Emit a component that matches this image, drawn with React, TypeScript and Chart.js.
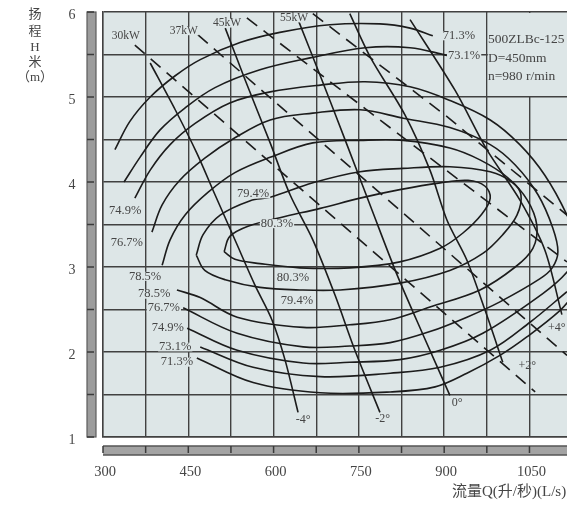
import React, { useEffect, useRef } from "react";
import { Chart, registerables } from "chart.js";
Chart.register(...registerables);

type P = [number, number];

// ---------- axes ----------
const xTickLabels = [300, 450, 600, 750, 900, 1050];
const yTickLabels = [1, 2, 3, 4, 5, 6];
const xGrid = [300, 375, 450, 525, 600, 675, 750, 825, 900, 975, 1050];
const yGrid = [1, 1.5, 2, 2.5, 3, 3.5, 4, 4.5, 5, 5.5, 6];
const xTitle = "流量Q(升/秒)(L/s)";
const yTitleChars = ["扬", "程", "H", "米", "（m）"];

// ---------- blade-angle H-Q curves [Q (L/s), H (m)] ----------
const bladeM4: P[] = [[383, 5.4], [427, 4.85], [465, 4.34], [497, 3.85], [532, 3.32], [567, 2.79], [597, 2.38], [620, 1.91], [643, 1.29]];
const bladeM2: P[] = [[515, 5.81], [550, 5.2], [594, 4.46], [629, 3.85], [669, 3.32], [708, 2.67], [743, 2.02], [787, 1.29]];
const blade0: P[] = [[643, 5.91], [685, 5.2], [729, 4.44], [773, 3.67], [817, 2.91], [863, 2.2], [910, 1.49]];
const bladeP2: P[] = [[734, 5.98], [770, 5.47], [831, 4.79], [875, 4.14], [905, 3.55], [940, 3.08], [972, 2.49], [1003, 1.88]];
const bladeP4: P[] = [[840, 5.91], [919, 5.08], [975, 4.38], [1033, 3.79], [1077, 3.2], [1107, 2.44]];
const angleText = ["-4°", "-2°", "0°", "+2°", "+4°"];
const angleQ = [652, 792, 923, 1046, 1098];
const angleH = [1.2, 1.21, 1.4, 1.84, 2.28];

// ---------- shaft power lines ----------
const power30: P[] = [[356, 5.61], [1060, 1.53]];
const power37: P[] = [[467, 5.73], [1116, 1.96]];
const power45: P[] = [[553, 5.93], [791, 4.71], [1116, 3.06]];
const power55: P[] = [[669, 5.98], [901, 4.79], [1116, 3.61]];
const powerText = ["30kW", "37kW", "45kW", "55kW"];
const powerQ = [340, 442, 518, 636];
const powerH = [5.72, 5.78, 5.87, 5.93];

// ---------- efficiency contours ----------
const eff713Upper: P[] = [[321, 4.38], [347, 4.71], [383, 5.0], [427, 5.25], [471, 5.44], [541, 5.64], [611, 5.76], [699, 5.85], [787, 5.86], [840, 5.81], [880, 5.72]];
const eff713Lower: P[] = [[465, 1.93], [564, 1.64], [682, 1.52], [805, 1.53], [884, 1.59], [940, 1.75], [998, 1.96], [1046, 2.18], [1104, 2.49], [1130, 2.69]];
const eff731Upper: P[] = [[337, 4.0], [365, 4.29], [400, 4.61], [444, 4.87], [497, 5.11], [576, 5.32], [664, 5.46], [761, 5.58], [840, 5.58], [905, 5.49]];
const eff731Lower: P[] = [[471, 2.06], [564, 1.82], [682, 1.71], [805, 1.75], [893, 1.82], [981, 2.02], [1051, 2.35], [1116, 2.71]];
const eff749: P[] = [[356, 3.81], [383, 4.14], [418, 4.44], [462, 4.69], [523, 4.93], [594, 5.06], [682, 5.14], [761, 5.18], [840, 5.12], [910, 4.96], [981, 4.73], [1033, 4.44], [1077, 4.08], [1116, 3.61], [1139, 3.2], [1116, 2.94], [1074, 2.69], [968, 2.22], [893, 2.02], [822, 1.91], [734, 1.88], [652, 1.87], [536, 2.02], [448, 2.28]];
const eff767: P[] = [[386, 3.41], [404, 3.73], [435, 4.02], [479, 4.28], [532, 4.52], [594, 4.73], [669, 4.81], [752, 4.85], [828, 4.75], [910, 4.64], [981, 4.44], [1025, 4.2], [1065, 3.85], [1091, 3.46], [1100, 3.18], [1090, 2.99], [1068, 2.86], [998, 2.59], [940, 2.41], [875, 2.24], [805, 2.11], [734, 2.07], [652, 2.06], [536, 2.22], [441, 2.52]];
const eff785: P[] = [[404, 3.02], [418, 3.32], [444, 3.61], [485, 3.88], [532, 4.11], [594, 4.29], [669, 4.46], [752, 4.49], [828, 4.49], [910, 4.4], [963, 4.26], [1012, 4.05], [1046, 3.79], [1063, 3.49], [1056, 3.22], [1025, 3.0], [963, 2.73], [875, 2.53], [805, 2.38], [734, 2.32], [652, 2.29], [536, 2.41], [471, 2.64], [430, 2.73]];
const eff794: P[] = [[464, 3.14], [476, 3.38], [506, 3.61], [559, 3.78], [594, 3.82], [669, 3.99], [752, 4.12], [828, 4.16], [910, 4.18], [981, 4.12], [1019, 4.0], [1035, 3.85], [1028, 3.61], [1003, 3.38], [968, 3.16], [910, 2.96], [822, 2.81], [717, 2.73], [646, 2.73], [576, 2.76], [515, 2.85], [479, 2.96], [464, 3.14]];
const eff803: P[] = [[513, 3.18], [523, 3.36], [555, 3.48], [611, 3.58], [682, 3.69], [752, 3.81], [822, 3.91], [893, 3.99], [942, 4.02], [972, 3.95], [981, 3.81], [966, 3.62], [933, 3.4], [893, 3.22], [822, 3.06], [734, 2.99], [646, 2.99], [576, 3.04], [532, 3.09], [513, 3.18]];
const effText = ["74.9%", "76.7%", "78.5%", "78.5%", "76.7%", "74.9%", "73.1%", "71.3%", "79.4%", "80.3%", "80.3%", "79.4%", "71.3%", "73.1%"];
const effQ = [339, 342, 374, 390, 407, 414, 427, 430, 564, 606, 634, 641, 926, 935];
const effH = [3.66, 3.28, 2.89, 2.68, 2.52, 2.28, 2.06, 1.88, 3.86, 3.51, 2.87, 2.6, 5.72, 5.48];

// ---------- pump spec ----------
const specText = ["500ZLBc-125", "D=450mm", "n=980 r/min"];
const specQ = 977;
const specH = [5.68, 5.45, 5.24];
const specBoxQ = 975;
const specBoxH: P = [5, 6];

const PLOT_BG = "#dde6e7";
const LINE = "#1c1c1c";
const GRID = "#414141";
const TEXT = "#454545";
const SERIF = '"Liberation Serif", "DejaVu Serif", "Noto Sans CJK SC", serif';
const CW = 567;
const CH = 505;

const xy = (a: P[]) => a.map(([x, y]) => ({ x, y }));
const solid = (a: P[], t = 0.35) => ({
  data: xy(a), borderColor: LINE, borderWidth: 1.6, pointRadius: 0, tension: t, fill: false,
});
const dashed = (a: P[]) => ({ ...solid(a, 0), borderDash: [13, 8] });

const decor = {
  id: "decor",
  beforeDraw(chart: any) {
    const { ctx, chartArea: a } = chart;
    ctx.save();
    ctx.fillStyle = "#fff";
    ctx.fillRect(0, 0, chart.width, chart.height);
    ctx.fillStyle = PLOT_BG;
    ctx.fillRect(a.left, a.top, a.right - a.left, a.bottom - a.top);
    ctx.restore();
  },
  beforeDatasetsDraw(chart: any) {
    const { ctx, chartArea: a, scales } = chart;
    const l = scales.x.getPixelForValue(specBoxQ);
    const t = scales.y.getPixelForValue(specBoxH[1]);
    const b = scales.y.getPixelForValue(specBoxH[0]);
    ctx.save();
    ctx.fillStyle = PLOT_BG;
    ctx.fillRect(l + 1, t + 1, a.right - l - 1, b - t - 2);
    ctx.restore();
  },
  afterDatasetsDraw(chart: any) {
    const { ctx, scales } = chart;
    const X = scales.x, Y = scales.y;
    ctx.save();
    ctx.textAlign = "center";
    ctx.textBaseline = "middle";
    const put = (txt: string, q: number, h: number, size: number, bg: boolean) => {
      ctx.font = `${size}px ${SERIF}`;
      const px = X.getPixelForValue(q), py = Y.getPixelForValue(h);
      if (bg) {
        const w = ctx.measureText(txt).width;
        ctx.fillStyle = PLOT_BG;
        ctx.fillRect(px - w / 2 - 1, py - 4.5, w + 2, 9);
      }
      ctx.fillStyle = TEXT;
      ctx.fillText(txt, px, py);
    };
    effText.forEach((t, i) => put(t, effQ[i], effH[i], 12.5, true));
    powerText.forEach((t, i) => put(t, powerQ[i], powerH[i], 11.5, true));
    angleText.forEach((t, i) => put(t, angleQ[i], angleH[i], 12, false));
    ctx.textAlign = "left";
    ctx.font = `13.5px ${SERIF}`;
    ctx.fillStyle = TEXT;
    specText.forEach((t, i) => ctx.fillText(t, X.getPixelForValue(specQ), Y.getPixelForValue(specH[i])));
    ctx.restore();
  },
  afterDraw(chart: any) {
    const { ctx, chartArea: a, scales } = chart;
    const X = scales.x, Y = scales.y;
    ctx.save();
    // left bar
    ctx.fillStyle = "#9c9c9c";
    ctx.fillRect(87, a.top, 9, a.bottom - a.top);
    ctx.strokeStyle = "#5c5c5c";
    ctx.lineWidth = 1.2;
    ctx.strokeRect(87, a.top, 9, a.bottom - a.top);
    ctx.lineWidth = 1.5;
    ctx.strokeStyle = "#3a3a3a";
    yGrid.forEach((v) => {
      const py = Y.getPixelForValue(v);
      ctx.beginPath(); ctx.moveTo(87, py); ctx.lineTo(94, py); ctx.stroke();
    });
    // bottom bar
    const by = a.bottom + 9;
    ctx.fillStyle = "#a3a3a3";
    ctx.fillRect(a.left, by, a.right - a.left, 9);
    ctx.strokeStyle = "#555";
    ctx.lineWidth = 1.5;
    ctx.beginPath(); ctx.moveTo(a.left, by); ctx.lineTo(a.right, by);
    ctx.moveTo(a.left, by + 9); ctx.lineTo(a.right, by + 9); ctx.stroke();
    ctx.strokeStyle = "#3a3a3a";
    xGrid.forEach((v) => {
      const px = X.getPixelForValue(v);
      ctx.beginPath(); ctx.moveTo(px, by); ctx.lineTo(px, by + 7); ctx.stroke();
    });
    // tick labels
    ctx.fillStyle = TEXT;
    ctx.font = `14.5px ${SERIF}`;
    ctx.textAlign = "center";
    ctx.textBaseline = "middle";
    xTickLabels.forEach((v) => ctx.fillText(String(v), X.getPixelForValue(v) + 2, 472));
    ctx.font = `14px ${SERIF}`;
    yTickLabels.forEach((v) => ctx.fillText(String(v), 72, Y.getPixelForValue(v) + 3));
    // titles
    ctx.textAlign = "left";
    ctx.font = `15px ${SERIF}`;
    ctx.fillText(xTitle, 452, 492);
    ctx.textAlign = "center";
    ctx.font = `13px ${SERIF}`;
    const ys = [15, 32, 48, 63, 78];
    yTitleChars.forEach((c, i) => ctx.fillText(c, 35, ys[i]));
    ctx.restore();
  },
};

export default function App() {
  const ref = useRef<HTMLCanvasElement | null>(null);
  useEffect(() => {
    if (!ref.current) return;
    const chart = new Chart(ref.current, {
      type: "line",
      data: {
        datasets: [
          solid(bladeM4, 0.3), solid(bladeM2, 0.3), solid(blade0, 0.3), solid(bladeP2, 0.3), solid(bladeP4, 0.3),
          dashed(power30), dashed(power37), dashed(power45), dashed(power55),
          solid(eff713Upper), solid(eff713Lower), solid(eff731Upper), solid(eff731Lower),
          solid(eff749), solid(eff767), solid(eff785), solid(eff794), solid(eff803),
        ] as any,
      },
      options: {
        animation: false,
        responsive: false,
        devicePixelRatio: 1,
        events: [],
        layout: { padding: { top: 12, right: 0, left: 0, bottom: 0 } },
        plugins: { legend: { display: false }, tooltip: { enabled: false } },
        scales: {
          x: {
            type: "linear", min: 300, max: 1116,
            afterFit: (s: any) => { s.height = CH - 437; },
            afterBuildTicks: (s: any) => { s.ticks = xGrid.map((v) => ({ value: v })); },
            ticks: { display: false },
            grid: { color: GRID, lineWidth: 1.4, drawTicks: false },
            border: { display: true, color: GRID, width: 1.4 },
          },
          y: {
            type: "linear", min: 1, max: 6,
            afterFit: (s: any) => { s.width = 103; },
            afterBuildTicks: (s: any) => { s.ticks = yGrid.map((v) => ({ value: v })); },
            ticks: { display: false },
            grid: { color: GRID, lineWidth: 1.4, drawTicks: false },
            border: { display: true, color: GRID, width: 1.4 },
          },
        },
      } as any,
      plugins: [decor],
    });
    return () => chart.destroy();
  }, []);
  return (
    <div style={{ position: "fixed", left: 0, top: 0, width: CW, height: CH }}>
      <canvas ref={ref} width={CW} height={CH} style={{ display: "block", width: CW, height: CH }} />
    </div>
  );
}
